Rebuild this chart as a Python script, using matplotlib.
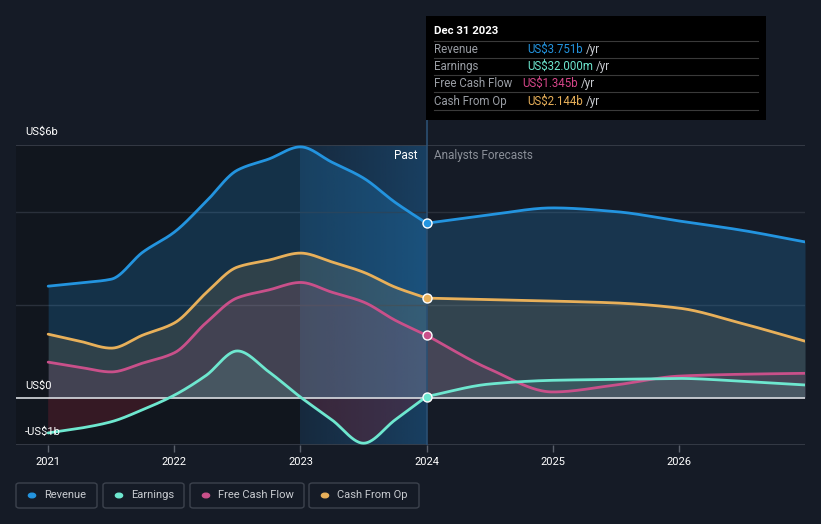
import numpy as np
import matplotlib
matplotlib.use("Agg")
import matplotlib.pyplot as plt
from matplotlib.patches import Rectangle, FancyBboxPatch, Circle
from matplotlib.colors import to_rgba

plt.rcParams['font.family'] = ['Roboto', 'DejaVu Sans']

# ------------------------------
# Datos (miles de millones USD)
# ------------------------------
past_t = [2021.0, 2021.25, 2021.5, 2021.75, 2022.0, 2022.25, 2022.5, 2022.75,
          2023.0, 2023.25, 2023.5, 2023.75, 2024.0]
fut_t = [2024.0, 2024.5, 2025.0, 2025.5, 2026.0, 2026.5, 2027.0]

revenue_past = [2.40, 2.47, 2.55, 3.13, 3.56, 4.21, 4.89, 5.13, 5.39, 5.06, 4.72, 4.20, 3.751]
revenue_fut = [3.751, 3.93, 4.08, 4.00, 3.80, 3.60, 3.35]

earnings_past = [-0.75, -0.65, -0.51, -0.25, 0.06, 0.48, 1.01, 0.56, 0.02, -0.47, -0.97, -0.47, 0.032]
earnings_fut = [0.032, 0.30, 0.38, 0.40, 0.42, 0.36, 0.28]

fcf_past = [0.77, 0.66, 0.56, 0.75, 0.97, 1.61, 2.15, 2.32, 2.48, 2.27, 2.06, 1.67, 1.345]
fcf_fut = [1.345, 0.62, 0.13, 0.28, 0.47, 0.51, 0.53]

cfo_past = [1.37, 1.22, 1.07, 1.35, 1.61, 2.25, 2.81, 2.96, 3.11, 2.92, 2.70, 2.38, 2.144]
cfo_fut = [2.144, 2.11, 2.08, 2.04, 1.93, 1.60, 1.22]

year_ticks = [2021, 2022, 2023, 2024, 2025, 2026]

BG = "#151b26"
C_REV = "#2394df"
C_EARN = "#6ee7cf"
C_FCF = "#c9508a"
C_CFO = "#e8b05a"


def smooth(x, y, n=40):
    """Curva monotona (Fritsch-Carlson) para dibujar la linea suavizada."""
    x = np.asarray(x, float)
    y = np.asarray(y, float)
    h = np.diff(x)
    d = np.diff(y) / h
    m = np.zeros_like(y)
    m[0], m[-1] = d[0], d[-1]
    for i in range(1, len(y) - 1):
        if d[i - 1] * d[i] <= 0:
            m[i] = 0
        else:
            w1 = 2 * h[i] + h[i - 1]
            w2 = h[i] + 2 * h[i - 1]
            m[i] = (w1 + w2) / (w1 / d[i - 1] + w2 / d[i])
    xs, ys = [], []
    for i in range(len(x) - 1):
        t = np.linspace(0, 1, n, endpoint=False)
        h00 = 2 * t**3 - 3 * t**2 + 1
        h10 = t**3 - 2 * t**2 + t
        h01 = -2 * t**3 + 3 * t**2
        h11 = t**3 - t**2
        xs.append(x[i] + t * h[i])
        ys.append(h00 * y[i] + h10 * h[i] * m[i] + h01 * y[i + 1] + h11 * h[i] * m[i + 1])
    xs.append([x[-1]])
    ys.append([y[-1]])
    return np.concatenate(xs), np.concatenate(ys)


W, H = 821, 524
fig = plt.figure(figsize=(W / 100, H / 100), dpi=100, facecolor=BG)


def fx(px):
    return px / W


def fy(py):
    return 1 - py / H


ax_top, ax_bot = 145, 444.6
ax = fig.add_axes([fx(16), fy(ax_bot), fx(805) - fx(16), (ax_bot - ax_top) / H])
ax.set_facecolor(BG)
ax.set_xlim(2020.745, 2027.0)
ax.set_ylim(-1.0, 5.43)

# fondo oscuro del pasado y banda resaltada 2023-2024
ax.axvspan(2020.745, 2023.0, color="#10141c", alpha=0.7, lw=0, zorder=0)
grad = np.linspace(0, 1, 256).reshape(1, -1)
blue = np.zeros((1, 256, 4))
blue[..., :3] = to_rgba("#1c5d92")[:3]
blue[..., 3] = 0.22 + 0.33 * grad
ax.imshow(blue, extent=[2023.0, 2024.0, -1.0, 5.43], aspect="auto", zorder=0.5)

# lineas de cuadricula
for yv in [2, 4]:
    ax.axhline(yv, color="#2a303b", lw=1, zorder=0.6)
ax.axhline(5.43, color="#3a404b", lw=1.2, zorder=0.6)
ax.axhline(-1.0, color="#3a404b", lw=1.2, zorder=0.6)

series = [
    (revenue_past, revenue_fut, C_REV, 0.22),
    (cfo_past, cfo_fut, C_CFO, 0.13),
    (fcf_past, fcf_fut, C_FCF, 0.13),
    (earnings_past, earnings_fut, C_EARN, 0.12),
]

for past, fut, col, a in series:
    xp, yp = smooth(past_t, past)
    xf, yf = smooth(fut_t, fut)
    xx = np.concatenate([xp, xf[1:]])
    yy = np.concatenate([yp, yf[1:]])
    ax.fill_between(xx, yy, 0, where=yy >= 0, interpolate=True, color=col, alpha=a, lw=0, zorder=1)
    if col == C_EARN:
        ax.fill_between(xx, yy, 0, where=yy < 0, interpolate=True, color="#7a2030", alpha=0.35, lw=0, zorder=1)
    ax.plot(xx, yy, color=col, lw=2.0, zorder=3, solid_capstyle="round")
    ax.scatter([2024.0], [fut[0]], s=42, color=col, edgecolor="white", linewidth=1.0, zorder=5)

ax.axhline(0, color="#d8dbe0", lw=1.2, zorder=2)

# linea vertical del presente
ax.plot([2024.0, 2024.0], [-1.0, 5.43], color="#2b4f72", lw=1.2, zorder=2.5)
fig.add_artist(plt.Line2D([fx(427), fx(427)], [fy(145), fy(118)], color="#2b4f72", lw=1.2))

ax.text(2023.93, 5.2, "Past", color="white", fontsize=8.5, ha="right", va="center", zorder=6)
ax.text(2024.06, 5.2, "Analysts Forecasts", color="#8a8f98", fontsize=8.5, ha="left", va="center", zorder=6)

# ejes
for s in ax.spines.values():
    s.set_visible(False)
ax.set_yticks([])
ax.set_xticks(year_ticks)
ax.set_xticklabels([str(y) for y in year_ticks])
ax.tick_params(axis="x", colors="#5a606b", length=5, width=1, labelcolor="white", labelsize=8, pad=4)

fig.text(fx(25), fy(132), "US$6b", color="white", fontsize=8, va="center")
fig.text(fx(25), fy(386), "US$0", color="white", fontsize=8, va="center")
fig.text(fx(25), fy(432), "-US$1b", color="white", fontsize=8, va="center", zorder=10)

# cuadro de informacion
fig.add_artist(Rectangle((fx(426), fy(120)), fx(766) - fx(426), (120 - 16) / H,
                         facecolor="black", edgecolor="none", zorder=8))
fig.text(fx(434), fy(31), "Dec 31 2023", color="white", fontsize=8.2, weight="bold", va="center", zorder=9)
rows = [
    ("Revenue", "US$3.751b", C_REV, 527),
    ("Earnings", "US$32.000m", C_EARN, 527),
    ("Free Cash Flow", "US$1.345b", "#d6468a", 522),
    ("Cash From Op", "US$2.144b", C_CFO, 527),
]
line_y = [41, 58, 75, 92, 110]
for ly in line_y:
    fig.add_artist(plt.Line2D([fx(434), fx(758)], [fy(ly), fy(ly)], color="#3a3a3a", lw=0.8, zorder=9))
renderer = fig.canvas.get_renderer()
for i, (name, val, col, vx) in enumerate(rows):
    yy = (line_y[i] + line_y[i + 1]) / 2
    fig.text(fx(434), fy(yy), name, color="#9a9ea5", fontsize=8.3, va="center", zorder=9)
    t = fig.text(fx(vx), fy(yy), val, color=col, fontsize=8.3, va="center", zorder=9)
    x_end = t.get_window_extent(renderer).x1
    fig.text((x_end + 3) / W, fy(yy), "/yr", color="#c8cbd0", fontsize=8.3, va="center", zorder=9)

# leyenda
legend = [("Revenue", C_REV, 16, 97), ("Earnings", C_EARN, 103, 184),
          ("Free Cash Flow", C_FCF, 190, 304), ("Cash From Op", C_CFO, 309, 419)]
for name, col, x0, x1 in legend:
    fig.add_artist(FancyBboxPatch((fx(x0), fy(508)), fx(x1) - fx(x0), 25 / H,
                                  boxstyle="round,pad=0,rounding_size=0.004",
                                  facecolor="none", edgecolor="#3c424d", lw=1))
    fig.add_artist(Circle((fx(x0 + 16), fy(495.5)), 3.6 / W, color=col, transform=fig.transFigure))
    fig.text(fx(x0 + 28), fy(495.5), name, color="#c8cbd0", fontsize=8, va="center")

fig.savefig("out.png", dpi=100, facecolor=BG)
